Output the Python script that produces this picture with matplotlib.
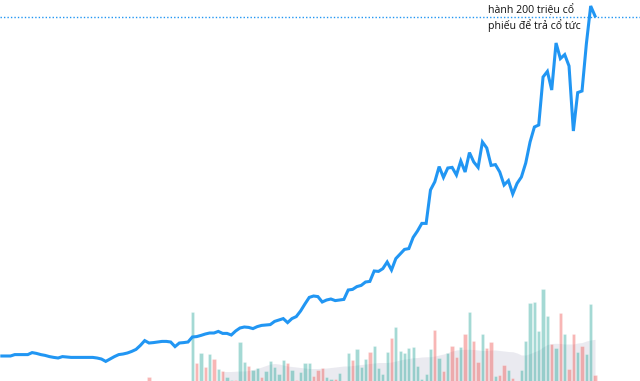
# Price line with volume bars (cropped chart view)
import matplotlib
matplotlib.use('Agg')
import matplotlib.pyplot as plt
import numpy as np

# closing price, one value per session
price = [6.25, 6.25, 6.25, 6.6, 6.6, 6.6, 6.6, 7.1, 6.9, 6.6,
         6.4, 6.1, 5.9, 5.75, 6.1, 6.0, 5.9, 5.9, 5.9, 5.9,
         5.9, 5.9, 5.75, 5.5, 4.9, 5.5, 6.1, 6.6, 6.75, 7.0,
         7.4, 7.9, 8.9, 10.1, 9.5, 9.6, 9.75, 9.9, 9.9, 9.75,
         8.6, 9.5, 9.6, 9.75, 11.0, 11.1, 11.4, 11.75, 12.0, 12.0,
         12.4, 11.9, 11.9, 11.5, 12.5, 13.25, 13.5, 13.4, 13.1, 13.6,
         13.9, 14.0, 14.1, 14.9, 15.25, 15.6, 14.6, 15.6, 16.1, 17.5,
         19.25, 20.9, 21.25, 21.1, 19.75, 20.25, 20.5, 20.1, 20.25, 20.4,
         22.75, 22.9, 23.6, 23.9, 24.75, 24.9, 27.5, 27.4, 28.1, 29.75,
         27.75, 30.6, 31.75, 32.9, 33.1, 35.9, 37.5, 39.4, 39.4, 47.75,
         49.8, 53.6, 50.9, 53.25, 53.4, 51.5, 55.0, 52.25, 57.1, 54.75,
         53.4, 59.75, 58.25, 53.9, 54.1, 52.25, 49.0, 50.1, 46.75, 49.4,
         51.0, 54.5, 59.75, 63.5, 64.0, 76.0, 77.4, 72.75, 84.5, 80.6,
         81.6, 78.75, 62.5, 72.1, 72.5, 84.25, 93.75, 91.25]

# traded volume per session
volume = [0, 0, 0, 0, 0, 0, 0, 0, 0, 0,
          0, 0, 0, 0, 0, 0, 0, 0, 0, 0,
          0, 0, 0, 0, 0, 0, 0, 0, 0, 0,
          0, 0, 0, 0, 4.3, 0, 0, 0, 0, 0,
          0, 0, 0, 0, 68.7, 17.7, 28.3, 14.3, 26.7, 22,
          12, 10.3, 3.7, 1, 1, 38.7, 19.3, 15, 11, 13,
          4.3, 10, 19.7, 14.3, 7, 21, 17.7, 11, 1, 9.3,
          18.3, 18.3, 5, 11, 12.7, 4.3, 2, 2, 8.3, 0,
          28.3, 21, 31.7, 14.3, 22, 29.3, 35.3, 13.3, 6.7, 29.3,
          42.7, 54.3, 30, 27.7, 32.7, 34.3, 15, 2, 6.7, 32,
          51, 23.3, 10, 28.3, 35, 24.3, 34.3, 46.7, 68.7, 40,
          18.7, 46.7, 33, 38.7, 5, 6, 16, 11, 2.7, 0,
          11, 40, 78.3, 79, 50.3, 92, 65, 37, 33, 68,
          47.3, 11.7, 46.7, 29, 35.3, 27.3, 77, 6]

# 1 = up session, 0 = down session
direction = [1, 1, 1, 1, 1, 1, 1, 1, 1, 1,
             1, 1, 1, 1, 1, 1, 1, 1, 1, 1,
             1, 1, 1, 1, 1, 1, 1, 1, 1, 1,
             1, 1, 1, 1, 0, 1, 1, 1, 1, 1,
             1, 1, 1, 1, 1, 0, 1, 0, 1, 0,
             1, 0, 1, 1, 0, 1, 1, 0, 1, 1,
             0, 1, 1, 1, 1, 1, 0, 1, 0, 1,
             1, 1, 0, 0, 0, 1, 1, 0, 1, 1,
             1, 0, 1, 1, 1, 0, 1, 1, 1, 1,
             0, 1, 1, 1, 1, 1, 1, 1, 1, 1,
             0, 1, 0, 1, 0, 0, 1, 0, 1, 0,
             0, 1, 0, 0, 1, 0, 0, 1, 0, 1,
             1, 1, 1, 1, 1, 1, 1, 0, 1, 0,
             1, 0, 0, 1, 0, 1, 1, 0]

# volume moving average, starts at session 51
ma_start = 51
ma_volume = [9.5, 9.5, 9.5, 9.8, 10, 10, 10.5, 11.5, 12.5,
             14, 15.5, 17, 17.5, 17, 16, 15, 14.5, 14, 13.5,
             13, 12.5, 12.5, 12.5, 12.7, 13, 13.5, 14, 14.5, 15,
             15, 15.5, 16, 16.5, 17, 17.5, 18, 18.5, 18.5, 18.5,
             19, 20, 21, 22, 22.5, 23.3, 23.5, 24, 24.2, 24.3,
             25, 26, 27, 28.5, 30, 31, 31.5, 31.7, 31.7, 31.5,
             31, 30.5, 30.5, 31, 31, 30.5, 30, 29.5, 29.3, 28,
             26, 26, 27.5, 29.3, 31, 34, 36.5, 37.5, 37.7, 37.5,
             37, 37, 37, 38, 38.5, 40, 41, 41.7]

level = 91.0  # dotted price level
note = "hành 200 triệu cổ\nphiếu để trả cổ tức"

x = np.arange(len(price))
colors = ['#26a69a' if d == 1 else '#ef5350' for d in direction]

fig = plt.figure(figsize=(6.4, 3.81), dpi=100)
ax = fig.add_axes([0, 0, 1, 1])
ax.axis('off')

# volume layer
ma_x = np.arange(ma_start, ma_start + len(ma_volume))
ax.fill_between(ma_x, 0, ma_volume, color='#e4e4ec', alpha=0.75, lw=0)
ax.bar(x, volume, width=0.76, color=colors, alpha=0.42,
       edgecolor='white', linewidth=0.4)
ax.set_ylim(0, 381)
ax.set_xlim(-0.42, 147.39)

# price layer
ax_p = ax.twinx()
ax_p.axis('off')
ax_p.plot(x, price, color='#2196f3', lw=2.2, solid_joinstyle='miter')
ax_p.axhline(level, color='#2196f3', lw=1, linestyle=(0, (1, 1.5)))
ax_p.set_ylim(0, 95.25)
ax_p.set_xlim(-0.42, 147.39)

fig.text(0.762, 0.989, note, ha='left', va='top', fontsize=7.6,
         family='Open Sans', color='#111111', linespacing=1.32)

plt.savefig('out.png', dpi=100)
